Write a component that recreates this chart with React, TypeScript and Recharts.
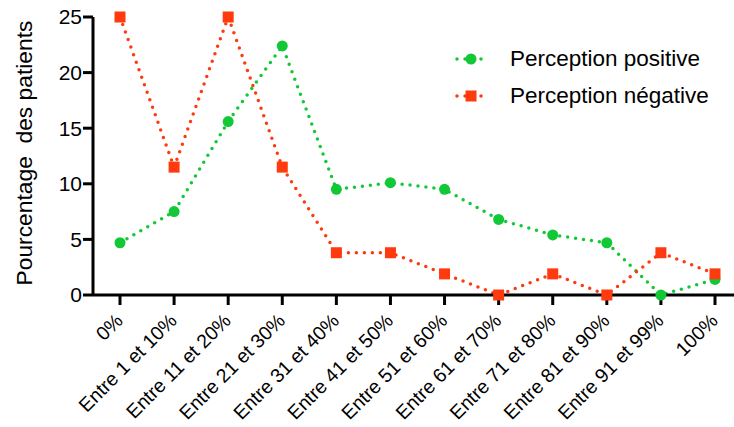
import React from "react";
import { LineChart, Line, XAxis, YAxis, Legend } from "recharts";

const categories = [
  "0%",
  "Entre 1 et 10%",
  "Entre 11 et 20%",
  "Entre 21 et 30%",
  "Entre 31 et 40%",
  "Entre 41 et 50%",
  "Entre 51 et 60%",
  "Entre 61 et 70%",
  "Entre 71 et 80%",
  "Entre 81 et 90%",
  "Entre 91 et 99%",
  "100%",
];
const positive = [4.7, 7.5, 15.6, 22.4, 9.5, 10.1, 9.5, 6.8, 5.4, 4.7, 0, 1.4];
const negative = [25, 11.5, 25, 11.5, 3.8, 3.8, 1.9, 0, 1.9, 0, 3.8, 1.9];
const yTicks = [0, 5, 10, 15, 20, 25];

const GREEN = "#12c836";
const RED = "#ff3a0e";
const FONT = "'Liberation Sans', Arial, sans-serif";

const data = categories.map((name, i) => ({
  name,
  pos: positive[i],
  neg: negative[i],
}));

const XTick = (props: any) => {
  const { x, y, payload } = props;
  const ax = x - 6;
  const ay = y + 7;
  return (
    <text
      x={ax}
      y={ay}
      dy="0.72em"
      textAnchor="end"
      transform={`rotate(-45 ${ax} ${ay})`}
      fontSize={19.5}
      fontFamily={FONT}
      fill="#000"
    >
      {payload.value}
    </text>
  );
};

const Square = (props: any) => {
  const { cx, cy, index } = props;
  return <rect key={`sq-${index}`} x={cx - 5.5} y={cy - 5.5} width={11} height={11} fill={RED} />;
};

const legendItems = [
  { label: "Perception positive", color: GREEN, shape: "circle" },
  { label: "Perception négative", color: RED, shape: "square" },
];

const LegendContent = () => (
  <div style={{ fontFamily: FONT, fontSize: 22.5, color: "#000" }}>
    {legendItems.map((it) => (
      <div key={it.label} style={{ display: "flex", alignItems: "center", height: 37 }}>
        <svg width={48} height={20} style={{ marginRight: 7 }}>
          <line
            x1={2}
            y1={10}
            x2={30}
            y2={10}
            stroke={it.color}
            strokeWidth={3.5}
            strokeDasharray="0 8"
            strokeLinecap="round"
          />
          {it.shape === "circle" ? (
            <circle cx={16} cy={10} r={5.5} fill={it.color} />
          ) : (
            <rect x={10.5} y={4.5} width={11} height={11} fill={it.color} />
          )}
        </svg>
        <span>{it.label}</span>
      </div>
    ))}
  </div>
);

export default function App() {
  return (
    <div style={{ position: "absolute", left: 0, top: 0, width: 734, height: 427, background: "#fff" }}>
      <LineChart width={734} height={427} data={data} margin={{ top: 17, right: 0, bottom: 0, left: 0 }}>
        <XAxis
          dataKey="name"
          interval={0}
          height={132}
          padding={{ left: 27, right: 19 }}
          stroke="#000"
          strokeWidth={3}
          tickSize={10}
          tickMargin={0}
          tickLine={{ stroke: "#000", strokeWidth: 3 }}
          tick={<XTick />}
        />
        <YAxis
          width={93}
          domain={[0, 25]}
          ticks={yTicks}
          interval={0}
          stroke="#000"
          strokeWidth={3}
          tickSize={10}
          tickMargin={1}
          tickLine={{ stroke: "#000", strokeWidth: 3 }}
          tick={{ fontSize: 21, fontFamily: FONT, fill: "#000" }}
          label={{
            content: (p: any) => {
              const vb = p.viewBox;
              const cx = vb.x + 24;
              const cy = vb.y + vb.height / 2 - 3;
              return (
                <text
                  x={cx}
                  y={cy}
                  textAnchor="middle"
                  dominantBaseline="central"
                  transform={`rotate(-90 ${cx} ${cy})`}
                  fontSize={22.8}
                  fontFamily={FONT}
                  fill="#000"
                  style={{ whiteSpace: "pre" }}
                >
                  {"Pourcentage  des patients"}
                </text>
              );
            },
          }}
        />
        <Legend
          layout="vertical"
          align="center"
          verticalAlign="middle"
          content={<LegendContent />}
          wrapperStyle={{ position: "absolute", top: 40, left: 455, width: 280 }}
        />
        <Line
          dataKey="pos"
          stroke={GREEN}
          strokeWidth={3.5}
          strokeDasharray="0 8"
          strokeLinecap="round"
          dot={{ r: 5.5, fill: GREEN, stroke: "none" }}
          activeDot={false}
          isAnimationActive={false}
        />
        <Line
          dataKey="neg"
          stroke={RED}
          strokeWidth={3.5}
          strokeDasharray="0 8"
          strokeLinecap="round"
          dot={<Square />}
          activeDot={false}
          isAnimationActive={false}
        />
      </LineChart>
    </div>
  );
}
